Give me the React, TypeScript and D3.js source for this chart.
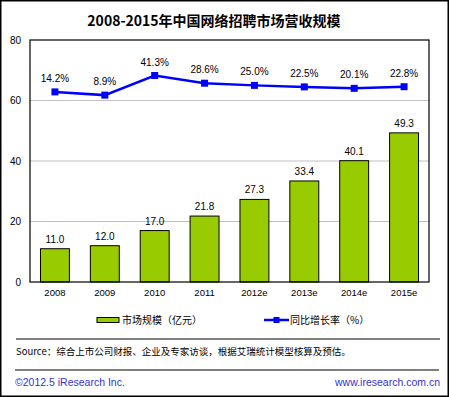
import React from "react";
import * as d3 from "d3";

const categories = ["2008", "2009", "2010", "2011", "2012e", "2013e", "2014e", "2015e"];
const marketSize = [11.0, 12.0, 17.0, 21.8, 27.3, 33.4, 40.1, 49.3];
const growthRate = [14.2, 8.9, 41.3, 28.6, 25.0, 22.5, 20.1, 22.8];
const yTicks = [0, 20, 40, 60, 80];

const W = 449;
const H = 397;
const plot = { left: 30, right: 429, top: 40, bottom: 282 };
const FONT = "'Liberation Sans', Arial, sans-serif";
const CJK = "'Noto Sans CJK SC', sans-serif";

export default function App() {
  const x = d3.scaleBand<string>().domain(categories).range([plot.left, plot.right]).paddingInner(0.42).paddingOuter(0.21);
  const y = d3.scaleLinear().domain([0, 80]).range([plot.bottom, plot.top]);
  const y2 = d3.scaleLinear().domain([-300, 100]).range([plot.bottom, plot.top]);
  const bw = x.bandwidth();
  const cx = (c: string) => (x(c) as number) + bw / 2;

  const line = d3
    .line<number>()
    .x((_, i) => cx(categories[i]))
    .y((d) => y2(d));

  return (
    <svg width={W} height={H} style={{ position: "absolute", left: 0, top: 0, background: "#fff" }}>
      <rect x={0.75} y={0.75} width={W - 1.5} height={H - 1.5} fill="#fff" stroke="#000" strokeWidth={1.5} />
      <text x={214} y={26} textAnchor="middle" fontFamily={CJK} fontWeight="bold" fontSize={14} fill="#000">
        2008-2015年中国网络招聘市场营收规模
      </text>

      {yTicks.filter((t) => t > 0 && t < 80).map((t) => (
        <line key={t} x1={plot.left} x2={plot.right} y1={y(t)} y2={y(t)} stroke="#c0c0c0" strokeWidth={1} />
      ))}
      {yTicks.map((t) => (
        <text key={t} x={21} y={y(t) + 3.5} textAnchor="end" fontFamily={FONT} fontSize={10} fill="#000">
          {t}
        </text>
      ))}

      {categories.map((c, i) => (
        <g key={c}>
          <rect x={x(c)} y={y(marketSize[i])} width={bw} height={y(0) - y(marketSize[i])} fill="#99cc00" stroke="#000" strokeWidth={1} />
          <text x={cx(c)} y={y(marketSize[i]) - 6} textAnchor="middle" fontFamily={FONT} fontSize={10} fill="#000">
            {marketSize[i].toFixed(1)}
          </text>
          <text x={cx(c)} y={plot.bottom + 14} textAnchor="middle" fontFamily={FONT} fontSize={9.5} fill="#000">
            {c}
          </text>
        </g>
      ))}

      <rect x={plot.left} y={plot.top} width={plot.right - plot.left} height={plot.bottom - plot.top} fill="none" stroke="#000" strokeWidth={1.2} />

      <path d={line(growthRate) || ""} fill="none" stroke="#0000ff" strokeWidth={2.5} />
      {categories.map((c, i) => (
        <g key={c}>
          <rect x={cx(c) - 3.5} y={y2(growthRate[i]) - 3.5} width={7} height={7} fill="#0000ff" />
          <text x={cx(c)} y={y2(growthRate[i]) - 10} textAnchor="middle" fontFamily={FONT} fontSize={10} fill="#000">
            {growthRate[i].toFixed(1)}%
          </text>
        </g>
      ))}

      <rect x={97} y={317.5} width={22} height={5} fill="#99cc00" stroke="#000" strokeWidth={1} />
      <text x={122} y={324} fontFamily={CJK} fontSize={10} fill="#000">市场规模（亿元）</text>
      <line x1={264} x2={289} y1={320} y2={320} stroke="#0000ff" strokeWidth={2.5} />
      <rect x={273.5} y={317} width={6} height={6} fill="#0000ff" />
      <text x={290} y={324} fontFamily={CJK} fontSize={10} fill="#000">同比增长率（%）</text>

      <line x1={16} x2={440} y1={339} y2={339} stroke="#000" strokeWidth={1} />
      <text x={16} y={355} fontFamily={CJK} fontSize={9.5} fill="#000">
        Source：综合上市公司财报、企业及专家访谈，根据艾瑞统计模型核算及预估。
      </text>
      <line x1={15} x2={439} y1={370} y2={370} stroke="#000" strokeWidth={1} />
      <text x={15} y={386} fontFamily={FONT} fontSize={10.5} fill="#3333cc">©2012.5 iResearch Inc.</text>
      <text x={440} y={386} textAnchor="end" fontFamily={FONT} fontSize={10.5} fill="#3333cc">www.iresearch.com.cn</text>
    </svg>
  );
}
